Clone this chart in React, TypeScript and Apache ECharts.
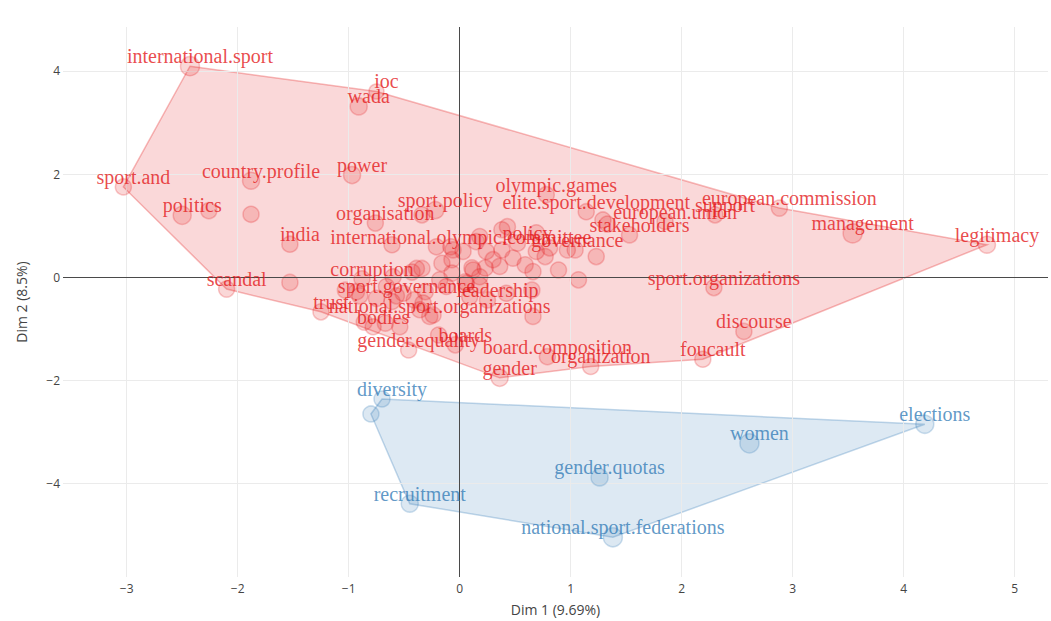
import React, { useEffect, useRef } from 'react';
import * as echarts from 'echarts';

// Labeled red cluster points
const redNames = [
  'international.sport', 'ioc', 'wada', 'sport.and', 'country.profile', 'power', 'politics', 'india',
  'organisation', 'sport.policy', 'international.olympic.committee', 'olympic.games', 'elite.sport.development',
  'european.union', 'support', 'european.commission', 'stakeholders', 'management', 'legitimacy', 'policy',
  'governance', 'corruption', 'sport.governance', 'leadership', 'trust', 'national.sport.organizations',
  'bodies', 'gender.equality', 'boards', 'board.composition', 'gender', 'organization', 'foucault',
  'discourse', 'sport.organizations', 'scandal',
];
const redX = [
  -2.43, -0.75, -0.91, -3.03, -1.88, -0.97, -2.50, -1.53,
  -0.76, -0.22, -0.08, 0.78, 1.14,
  1.85, 2.30, 2.88, 1.53, 3.54, 4.75, 0.52,
  0.97, -0.88, -0.57, 0.25, -1.25, -0.27,
  -0.78, -0.46, -0.04, 0.79, 0.36, 1.18, 2.19,
  2.56, 2.29, -2.10,
];
const redY = [
  4.09, 3.60, 3.31, 1.75, 1.87, 1.98, 1.20, 0.64,
  1.05, 1.30, 0.59, 1.60, 1.27,
  1.08, 1.21, 1.34, 0.82, 0.85, 0.63, 0.66,
  0.53, -0.03, -0.36, -0.44, -0.67, -0.76,
  -0.96, -1.41, -1.31, -1.54, -1.95, -1.73, -1.59,
  -1.05, -0.20, -0.23,
];
const redSizes = [
  19, 15, 17, 16, 17, 17, 18, 16,
  16, 17, 16, 16, 16,
  16, 16, 16, 16, 19, 17, 16,
  16, 16, 16, 16, 16, 16,
  16, 16, 16, 16, 17, 16, 16,
  16, 16, 16,
];

// Unlabeled red cluster points
const redExtraX = [
  -2.26, -1.88, -1.53, -0.34, -0.61, -0.21, -0.06, 0.03, -0.16, -0.07,
  -0.39, -0.34, -0.43, -0.07, -0.60, -0.66, -0.93, -0.75, -0.61, -0.51,
  -0.31, -0.33, -0.24, -0.12, 0.06, 0.18, 0.42, 0.66, -0.67, -0.54,
  -0.19, 0.15, 0.24, 0.38, 0.43, 0.38, 0.48, 0.30, 0.11, 0.23,
  0.59, 0.69, 0.69, 0.66, 0.81, 0.89, 1.04, 1.23, 1.07, 1.29,
  1.33, 0.05, 0.18, 0.12, 0.36, 0.77, 0.18, 0.09, 0.65, -0.18,
  -0.90, -1.03, -0.41, -0.36, -0.86,
];
const redExtraY = [
  1.29, 1.22, -0.10, 1.21, 0.63, 0.59, 0.53, 0.50, 0.27, 0.34,
  0.17, 0.17, 0.10, 0.08, 0.01, -0.18, -0.28, -0.41, -0.47, -0.31,
  -0.28, -0.50, -0.73, -0.18, -0.12, -0.15, -0.31, -0.76, -0.89, -0.96,
  -1.12, 0.69, 0.50, 0.92, 0.98, 0.53, 0.37, 0.34, 0.18, 0.18,
  0.24, 0.86, 0.50, 0.11, 0.57, 0.14, 0.53, 0.40, -0.05, 1.11,
  1.03, -0.09, 0.01, 0.14, 0.21, 0.40, 0.79, -0.38, -0.25, -0.05,
  -0.36, -0.25, -0.44, -0.63, -0.87,
];

// Blue cluster points ('' = no label)
const blueNames = ['diversity', '', 'recruitment', 'gender.quotas', 'national.sport.federations', 'women', 'elections'];
const blueX = [-0.70, -0.80, -0.45, 1.26, 1.38, 2.61, 4.19];
const blueY = [-2.36, -2.65, -4.39, -3.88, -5.04, -3.22, -2.85];
const blueSizes = [16, 16, 17, 17, 19, 19, 18];

// Hull vertices
const redHullNames = [
  'international.sport', 'ioc', 'european.commission', 'legitimacy', 'foucault', 'organization',
  'gender', 'trust', 'scandal', 'sport.and',
];
const blueHullIdx = [0, 6, 4, 2, 1];

const xTicks = [-3, -2, -1, 0, 1, 2, 3, 4, 5];
const yTicks = [-4, -2, 0, 2, 4];
const xTitle = 'Dim 1 (9.69%)';
const yTitle = 'Dim 2 (8.5%)';

const RED = 'rgb(228,26,28)';
const BLUE = 'rgb(55,126,184)';
const AXIS_FONT = '"Open Sans", "Noto Sans", sans-serif';
const LABEL_FONT = '"Liberation Serif", "Times New Roman", serif';

const fmt = (v: number) => String(v).replace('-', '\u2212');

export default function App() {
  const ref = useRef<HTMLDivElement>(null);
  useEffect(() => {
    if (!ref.current) return;
    const chart = echarts.init(ref.current, null, { renderer: 'svg' });

    const redHull = redHullNames.map((n) => {
      const i = redNames.indexOf(n);
      return [redX[i], redY[i]];
    });
    const blueHull = blueHullIdx.map((i) => [blueX[i], blueY[i]]);

    const hullSeries = (pts: number[][], fill: string, stroke: string) => ({
      type: 'custom',
      silent: true,
      z: 2,
      clip: true,
      data: [[pts[0][0], pts[0][1]]],
      renderItem: (_p: any, api: any) => ({
        type: 'polygon',
        shape: { points: pts.map((p) => api.coord(p)) },
        style: { fill, stroke, lineWidth: 1.5 },
      }),
    });

    const labelStyle = (color: string) => ({
      show: true,
      position: 'inside',
      offset: [10, -10],
      formatter: '{b}',
      color,
      fontSize: 20,
      fontFamily: LABEL_FONT,
    });

    const option: any = {
      animation: false,
      backgroundColor: '#fff',
      grid: { left: 63, right: 3, top: 27, bottom: 44, containLabel: false },
      xAxis: {
        type: 'value',
        min: -3.574,
        max: 5.3,
        splitLine: { show: false },
        axisLine: { show: false },
        axisTick: { show: false },
        axisLabel: {
          customValues: xTicks,
          formatter: fmt,
          color: '#444',
          fontSize: 12,
          fontFamily: AXIS_FONT,
          margin: 5,
        },
        name: xTitle,
        nameLocation: 'middle',
        nameGap: 25,
        nameTextStyle: { color: '#444', fontSize: 14, fontFamily: AXIS_FONT },
      },
      yAxis: {
        type: 'value',
        min: -5.81,
        max: 4.85,
        splitLine: { show: false },
        axisLine: { show: false },
        axisTick: { show: false },
        axisLabel: {
          customValues: yTicks,
          formatter: fmt,
          color: '#444',
          fontSize: 12,
          fontFamily: AXIS_FONT,
          margin: 3,
        },
        name: yTitle,
        nameLocation: 'middle',
        nameGap: 35,
        nameTextStyle: { color: '#444', fontSize: 14, fontFamily: AXIS_FONT },
      },
      series: [
        {
          type: 'scatter',
          z: 1,
          silent: true,
          data: [],
          markLine: {
            silent: true,
            symbol: 'none',
            label: { show: false },
            lineStyle: { color: '#ebebeb', width: 1, type: 'solid' },
            data: [
              ...xTicks.filter((v) => v !== 0).map((v) => ({ xAxis: v })),
              ...yTicks.filter((v) => v !== 0).map((v) => ({ yAxis: v })),
            ],
          },
        },
        hullSeries(redHull, 'rgba(228,26,28,0.17)', 'rgba(228,26,28,0.3)'),
        hullSeries(blueHull, 'rgba(55,126,184,0.17)', 'rgba(55,126,184,0.3)'),
        {
          type: 'scatter',
          z: 3,
          silent: true,
          data: [],
          markLine: {
            silent: true,
            symbol: 'none',
            label: { show: false },
            lineStyle: { color: '#4a4a4a', width: 1, type: 'solid' },
            data: [{ xAxis: 0 }, { yAxis: 0 }],
          },
        },
        {
          type: 'scatter',
          z: 4,
          silent: true,
          symbolSize: 16,
          itemStyle: { color: 'rgba(228,26,28,0.22)', borderColor: 'rgba(228,26,28,0.3)', borderWidth: 1.5 },
          data: redExtraX.map((x, i) => [x, redExtraY[i]]),
        },
        {
          type: 'scatter',
          z: 5,
          silent: true,
          itemStyle: { color: 'rgba(228,26,28,0.22)', borderColor: 'rgba(228,26,28,0.3)', borderWidth: 1.5 },
          label: labelStyle(RED),
          data: redNames.map((n, i) => ({ name: n, value: [redX[i], redY[i]], symbolSize: redSizes[i] })),
        },
        {
          type: 'scatter',
          z: 5,
          silent: true,
          itemStyle: { color: 'rgba(55,126,184,0.22)', borderColor: 'rgba(55,126,184,0.32)', borderWidth: 1.5 },
          label: labelStyle(BLUE),
          data: blueNames.map((n, i) => ({ name: n, value: [blueX[i], blueY[i]], symbolSize: blueSizes[i] })),
        },
      ],
    };
    chart.setOption(option);
    return () => chart.dispose();
  }, []);
  return (
    <div
      ref={ref}
      style={{ position: 'fixed', left: 0, top: 0, width: 1051, height: 621, background: '#fff' }}
    />
  );
}
